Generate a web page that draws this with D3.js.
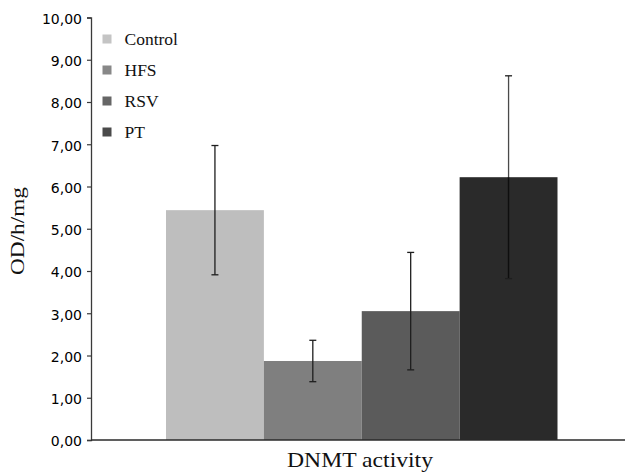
<!DOCTYPE html>
<html>
<head>
<meta charset="utf-8">
<script src="https://cdn.jsdelivr.net/npm/d3@7"></script>
<style>
  html, body { margin: 0; padding: 0; background: #fff; }
  svg { display: block; }
</style>
</head>
<body>
<svg id="chart" width="625" height="472"></svg>
<script>
const groups = ["Control", "HFS", "RSV", "PT"];
const means = [5.44, 1.87, 3.05, 6.22];
const errors = [1.53, 0.49, 1.39, 2.40];
const colors = ["#bebebe", "#7f7f7f", "#5b5b5b", "#2a2a2a"];
const legendColors = ["#c4c4c4", "#888888", "#666666", "#4a4a4a"];
const yTicks = [0, 1, 2, 3, 4, 5, 6, 7, 8, 9, 10];
const xTitle = "DNMT activity";
const yTitle = "OD/h/mg";

const svg = d3.select("#chart");
const W = 625, H = 472;
const axisX = 91, plotBottom = 440, plotTop = 17.5;

const y = d3.scaleLinear().domain([0, 10]).range([plotBottom, plotTop]);
const x = d3.scaleBand().domain(groups).range([166, 557.5]).padding(0);

// bars
svg.append("g").selectAll("rect").data(groups).join("rect")
  .attr("x", d => x(d))
  .attr("width", x.bandwidth())
  .attr("y", (d, i) => y(means[i]))
  .attr("height", (d, i) => y(0) - y(means[i]))
  .attr("fill", (d, i) => colors[i]);

// error bars
const eg = svg.append("g").attr("stroke", "#1e1e1e").attr("stroke-width", 1.3);
groups.forEach((g, i) => {
  const cx = x(g) + x.bandwidth() / 2;
  const y1 = y(means[i] + errors[i]);
  const y2 = y(means[i] - errors[i]);
  eg.append("line").attr("x1", cx).attr("x2", cx).attr("y1", y1).attr("y2", y2)
    .attr("stroke", i === 3 ? "#4a4a4a" : "#1e1e1e");
  if (i === 3) {
    eg.append("line").attr("x1", cx).attr("x2", cx).attr("y1", y(means[i])).attr("y2", y2)
      .attr("stroke", "#0e0e0e").attr("stroke-width", 1.6);
  }
  eg.append("line").attr("x1", cx - 3.5).attr("x2", cx + 3.5).attr("y1", y1).attr("y2", y1);
  eg.append("line").attr("x1", cx - 3.5).attr("x2", cx + 3.5).attr("y1", y2).attr("y2", y2);
});

// y axis
const fmt = v => d3.format(".2f")(v).replace(".", ",");
const yAxis = d3.axisLeft(y).tickValues(yTicks).tickFormat(fmt).tickSize(4).tickPadding(5);
const ya = svg.append("g").attr("transform", `translate(${axisX},0)`).call(yAxis);
ya.select(".domain").attr("stroke", "#3a3a3a").attr("stroke-width", 1.3);
ya.selectAll(".tick line").attr("stroke", "#3a3a3a").attr("stroke-width", 1.2);
ya.selectAll(".tick text")
  .attr("font-family", "'DejaVu Sans', Verdana, sans-serif")
  .attr("font-size", 14)
  .attr("fill", "#000")
  .attr("dy", "0.42em");

// x axis line
const xScaleLine = d3.scaleLinear().domain([0, 1]).range([axisX, W]);
svg.append("line")
  .attr("x1", xScaleLine(0)).attr("x2", xScaleLine(1))
  .attr("y1", y(0)).attr("y2", y(0))
  .attr("stroke", "#2a2a2a").attr("stroke-width", 1.4);

// titles
svg.append("text")
  .attr("x", 360).attr("y", 467)
  .attr("text-anchor", "middle")
  .attr("font-family", "'Liberation Serif', 'Times New Roman', serif")
  .attr("font-size", 21)
  .attr("fill", "#111")
  .attr("textLength", 146)
  .attr("lengthAdjust", "spacingAndGlyphs")
  .text(xTitle);

svg.append("text")
  .attr("transform", "translate(24,231) rotate(-90)")
  .attr("text-anchor", "middle")
  .attr("font-family", "'Liberation Serif', 'Times New Roman', serif")
  .attr("font-size", 19)
  .attr("fill", "#111")
  .attr("textLength", 88)
  .attr("lengthAdjust", "spacingAndGlyphs")
  .text(yTitle);

// legend
const legY = d3.scaleLinear().domain([0, 3]).range([39, 132]);
const lg = svg.append("g");
groups.forEach((g, i) => {
  lg.append("rect")
    .attr("x", 102.5).attr("y", legY(i) - 4.5)
    .attr("width", 9).attr("height", 9)
    .attr("fill", legendColors[i]);
  lg.append("text")
    .attr("x", 124.5).attr("y", legY(i) + 6)
    .attr("font-family", "'Liberation Serif', 'Times New Roman', serif")
    .attr("font-size", 17.5)
    .attr("fill", "#111")
    .text(g);
});
</script>
</body>
</html>
